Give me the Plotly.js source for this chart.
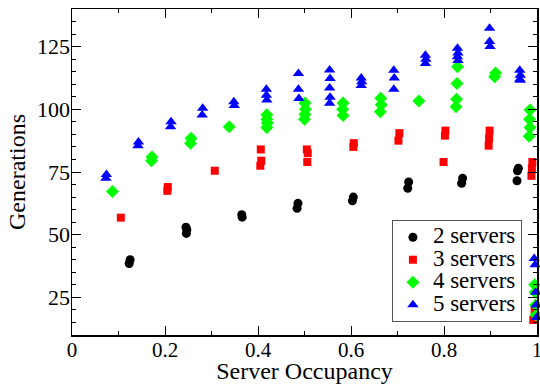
<!DOCTYPE html>
<html>
<head>
<meta charset="utf-8">
<script src="https://cdn.plot.ly/plotly-3.0.1.min.js"></script>
<style>html,body{margin:0;padding:0;background:#fff;}#chart{width:540px;height:384px;}</style>
</head>
<body>
<div id="chart"></div>
<script>
const s2x = [0.123,0.125,0.246,0.247,0.245,0.366,0.365,0.484,0.486,0.603,0.605,0.722,0.724,0.838,0.840,0.957,0.958,0.960];
const s2y = [38.5,40,50.5,52,53,57,58,60.5,62.5,63.5,65,68.5,71,70.5,72.5,71.5,75.5,76.5];

const s3x = [0.105,0.205,0.206,0.307,0.405,0.407,0.406,0.506,0.507,0.505,0.605,0.606,0.702,0.704,0.802,0.803,0.799,0.897,0.898,0.896,0.988,0.989,0.990,0.992,0.995];
const s3y = [56.8,67.5,69,75.5,77.5,79.5,84,79,82.5,84,85,86.5,87.5,90.5,89.5,91.5,79,88.5,91.5,85.5,73.5,76.5,79,16,20];

const s4x = [0.087,0.171,0.172,0.255,0.256,0.338,0.419,0.419,0.420,0.419,0.501,0.502,0.501,0.500,0.583,0.582,0.583,0.664,0.665,0.663,0.746,0.829,0.828,0.827,0.826,0.909,0.911,0.985,0.984,0.985,0.983,0.995,0.996,0.997,0.998];
const s4y = [67.2,79.5,81,86.5,88.5,93,97.8,96,94.5,92.7,102.5,100,98,96,102.5,100,97.5,104.4,101.8,99,103.3,117,110.3,104,101,113,114.5,99.7,96,92.7,89.3,30,27,22,18];

const s5x = [0.073,0.074,0.142,0.143,0.212,0.213,0.280,0.281,0.349,0.348,0.418,0.418,0.419,0.487,0.487,0.488,0.554,0.555,0.554,0.555,0.554,0.622,0.623,0.622,0.692,0.693,0.692,0.760,0.761,0.760,0.829,0.830,0.829,0.830,0.898,0.898,0.899,0.963,0.964,0.963,0.964,0.994,0.996,0.997,0.998,0.999];
const s5y = [72.5,74,85.5,87,93,95,97.7,100.4,101.5,103,108,105.6,103.7,114.3,108,104.3,115.7,112.3,108.5,104.8,102.4,112.5,111,109.5,115.6,112.5,108,121.6,120,118.3,124.3,122.5,121,119.5,132.3,127,125,115.6,113.6,112,111.6,40.5,38,27,22,17];

const names = ['2 servers','3 servers','4 servers','5 servers'];
const xTickVals = [0,0.2,0.4,0.6,0.8,1];
const xTickText = ['0','0.2','0.4','0.6','0.8','1'];
const yTickVals = [25,50,75,100,125];

const font = '"Liberation Serif", "Times New Roman", Times, serif';
const legendName = n => '<span style="font-size:23px">' + n + '</span>';

const traces = [
  {x:s2x, y:s2y, name:legendName(names[0]), type:'scatter', mode:'markers', cliponaxis:false,
   marker:{symbol:'circle', size:9, color:'#000000'}},
  {x:s3x, y:s3y, name:legendName(names[1]), type:'scatter', mode:'markers', cliponaxis:false,
   marker:{symbol:'square', size:8, color:'#ff0000'}},
  {x:s4x, y:s4y, name:legendName(names[2]), type:'scatter', mode:'markers', cliponaxis:false,
   marker:{symbol:'diamond', size:10, color:'#00ff00'}},
  {x:s5x, y:s5y, name:legendName(names[3]), type:'scatter', mode:'markers', cliponaxis:false,
   marker:{symbol:'triangle-up', size:10, color:'#0000ff'}}
];

function axisCommon() {
  return {
    showline:true, linecolor:'#000', linewidth:1.5, mirror:'allticks',
    ticks:'inside', tickcolor:'#000', tickwidth:1, ticklen:9,
    showgrid:false, zeroline:false, ticklabeloverflow:'allow',
    tickfont:{family:font, size:22, color:'#000'}
  };
}

const layout = {
  width:540, height:384,
  margin:{l:72, r:3, t:9, b:49},
  paper_bgcolor:'#fff', plot_bgcolor:'#fff',
  font:{family:font, size:22, color:'#000'},
  showlegend:true,
  xaxis: Object.assign(axisCommon(), {
    range:[0,1], tickvals:xTickVals, ticktext:xTickText,
    ticklabelstandoff:-5,
    tickfont:{family:font, size:21, color:'#000'},
    minor:{ticks:'inside', ticklen:4, dtick:0.1, tick0:0, tickcolor:'#000', showgrid:false},
    title:{text:'Server Occupancy', font:{family:font, size:24, color:'#000'}, standoff:5}
  }),
  yaxis: Object.assign(axisCommon(), {
    range:[10,140], tickvals:yTickVals,
    ticklabelstandoff:-4,
    minor:{ticks:'inside', ticklen:4, dtick:5, tick0:0, tickcolor:'#000', showgrid:false},
    title:{text:'Generations', font:{family:font, size:24, color:'#000'}, standoff:4}
  }),
  legend:{
    x:0.688, y:0.04, xanchor:'left', yanchor:'bottom',
    bgcolor:'#fff', bordercolor:'#555', borderwidth:1,
    font:{family:font, size:15, color:'#000'},
    tracegroupgap:0, itemwidth:30
  }
};

Plotly.newPlot('chart', traces, layout, {displayModeBar:false, staticPlot:true});
</script>
</body>
</html>
